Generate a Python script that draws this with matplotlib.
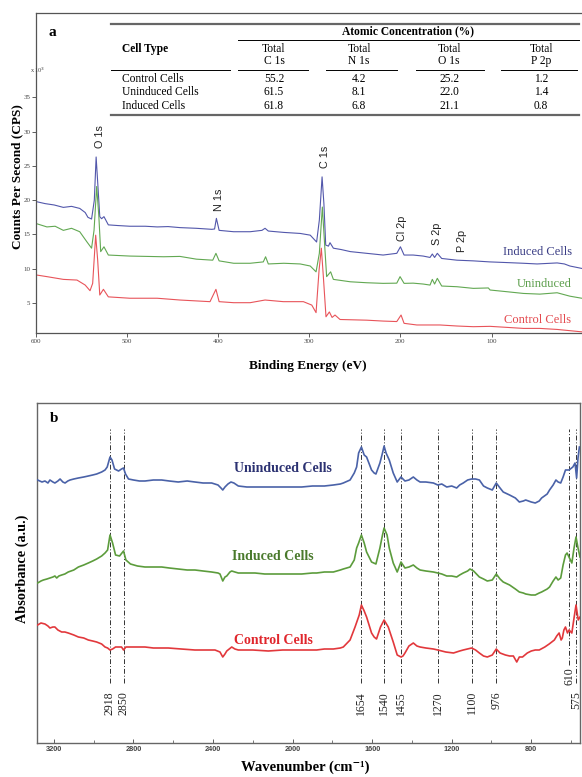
import matplotlib.pyplot as plt
from matplotlib.lines import Line2D

W, H = 582, 777

# ---- XPS survey spectra: binding energy (eV) vs counts per second (x10^3)
be_induced = [600, 590, 580, 570, 561, 552, 546, 543, 539, 536, 534, 532, 530, 528, 525.4,
              520.6, 510, 497, 480, 467, 455, 442, 424, 407, 404, 402, 399, 383, 365, 352,
              348.6, 345, 328, 310, 299, 292, 289, 286, 284, 282, 279, 277.3, 273.6, 265, 255,
              237, 219, 204, 200, 196, 186, 175, 167.5, 165, 162.5, 159.5, 154.7, 138, 120,
              102, 83, 65, 50, 28, 20, 14, 1]
cps_induced = [19.8, 19.5, 19.3, 18.95, 19.1, 18.8, 18.2, 17.5, 17.25, 20.0, 26.3, 22.0, 17.6,
               17.3, 17.6, 16.4, 16.3, 16.2, 16.2, 16.1, 16.15, 16.0, 15.9, 15.75, 15.8, 17.35,
               15.6, 15.4, 15.4, 15.6, 15.9, 15.5, 15.3, 15.15, 14.9, 13.9, 17.1, 23.4, 19.5,
               13.45, 13.3, 13.8, 13.0, 12.8, 12.5, 12.25, 12.0, 12.25, 13.2, 12.0, 12.0, 11.85,
               11.65, 12.15, 11.65, 12.25, 11.5, 11.25, 11.15, 11.0, 10.9, 10.8, 10.7, 10.85,
               10.7, 10.4, 10.05]

be_uninduced = [600, 588, 579, 570, 561, 552, 544, 539, 536.3, 533.4, 531, 529, 525.4, 520.6,
                497, 460, 442, 424, 406, 402.5, 399, 383, 365, 350.5, 348, 345, 328, 310, 299,
                292.6, 289, 285.7, 283.5, 281, 276.6, 273.6, 255, 237, 219, 204, 200.4, 196,
                186, 175, 167.5, 165, 162.5, 159.5, 154.7, 138, 120, 103.5, 101.6, 83, 65, 47,
                28, 14, 1]
cps_uninduced = [16.6, 16.1, 16.2, 15.6, 15.9, 15.4, 13.9, 13.0, 15.6, 22.0, 17.6, 12.5, 13.2,
                 12.0, 11.85, 11.75, 11.8, 11.4, 11.25, 12.25, 11.15, 10.8, 10.8, 11.0, 11.75,
                 10.7, 10.8, 10.7, 10.4, 9.55, 12.25, 19.0, 14.2, 8.85, 9.55, 8.45, 8.1, 7.96,
                 7.87, 7.9, 8.85, 7.87, 7.9, 7.77, 7.62, 8.45, 7.77, 8.6, 7.48, 7.38, 7.14, 7.2,
                 6.9, 6.65, 6.4, 6.3, 6.5, 6.0, 5.7]

be_control = [600, 588, 570, 555, 546, 540.7, 537.8, 534.5, 532.3, 530, 526, 520.6, 497, 467,
              442, 409, 402.5, 399, 383, 365, 348.6, 328.5, 306.5, 297.3, 292.6, 289.3, 286.8,
              284.6, 281.7, 278, 275, 271.8, 266.3, 237, 219, 204, 199.3, 196, 182, 156.5, 138,
              120, 101.6, 83, 65, 47, 28, 1]
cps_control = [9.1, 8.85, 8.45, 8.35, 7.62, 6.8, 7.87, 14.9, 11.25, 6.17, 7.0, 5.9, 5.7, 5.7,
               5.44, 5.2, 7.0, 5.2, 5.05, 5.05, 5.44, 5.2, 5.2, 4.7, 3.6, 9.8, 13.0, 8.85, 3.0,
               3.7, 2.9, 3.25, 2.6, 2.5, 2.37, 2.3, 3.25, 2.04, 1.8, 1.8, 1.65, 1.55, 1.6, 1.45,
               1.3, 1.3, 1.15, 0.8]

peak_names = ['O 1s', 'N 1s', 'C 1s', 'Cl 2p', 'S 2p', 'P 2p']
peak_be = [530, 399, 283, 198, 160, 132.5]
peak_y = [29.3, 20.0, 26.3, 15.9, 15.1, 14.0]

# ---- atomic concentration table
cell_types = ['Control Cells', 'Uninduced Cells', 'Induced Cells']
elements = ['C 1s', 'N 1s', 'O 1s', 'P 2p']
conc_c = ['55.2', '61.5', '61.8']
conc_n = ['4.2', '8.1', '6.8']
conc_o = ['25.2', '22.0', '21.1']
conc_p = ['1.2', '1.4', '0.8']

# ---- FTIR spectra: wavenumber (cm-1) vs absorbance (a.u.)
wn_uninduced = [3282, 3260, 3245, 3230, 3220, 3205, 3195, 3180, 3169, 3155, 3144, 3130, 3119,
                3100, 3077, 3050, 3027, 3005, 2985, 2960, 2943, 2932, 2918, 2908, 2895, 2875,
                2860, 2850, 2840, 2825, 2800, 2770, 2742, 2700, 2658, 2620, 2575, 2530, 2491,
                2450, 2407, 2375, 2360, 2351, 2340, 2325, 2310, 2295, 2273, 2230, 2189, 2140,
                2088, 2020, 1954, 1900, 1879, 1840, 1795, 1760, 1745, 1711, 1690, 1678, 1668,
                1654, 1640, 1628, 1603, 1590, 1581, 1561, 1548, 1540, 1530, 1514, 1494, 1474,
                1455, 1435, 1415, 1393, 1375, 1359, 1330, 1292, 1270, 1250, 1225, 1200, 1175,
                1160, 1142, 1120, 1100, 1080, 1061, 1040, 1021, 996, 976, 957, 941, 909, 880,
                860, 840, 828, 800, 780, 760, 748, 720, 708, 690, 676, 665, 652, 640, 628, 610,
                591, 580, 572, 565, 558]
ab_uninduced = [2.63, 2.61, 2.62, 2.60, 2.63, 2.61, 2.60, 2.62, 2.64, 2.61, 2.60, 2.62, 2.63,
                2.64, 2.65, 2.66, 2.67, 2.68, 2.69, 2.71, 2.73, 2.76, 2.86, 2.83, 2.74, 2.72,
                2.74, 2.75, 2.69, 2.64, 2.63, 2.62, 2.62, 2.63, 2.63, 2.62, 2.61, 2.62, 2.61,
                2.60, 2.60, 2.58, 2.55, 2.53, 2.56, 2.59, 2.61, 2.60, 2.57, 2.56, 2.56, 2.56,
                2.56, 2.56, 2.56, 2.57, 2.57, 2.57, 2.58, 2.59, 2.60, 2.63, 2.70, 2.76, 2.90,
                2.96, 2.88, 2.86, 2.73, 2.70, 2.69, 2.80, 2.90, 2.97, 2.90, 2.83, 2.70, 2.61,
                2.66, 2.62, 2.63, 2.66, 2.63, 2.61, 2.61, 2.60, 2.58, 2.59, 2.56, 2.57, 2.55,
                2.58, 2.60, 2.63, 2.64, 2.64, 2.63, 2.57, 2.55, 2.53, 2.60, 2.55, 2.51, 2.48,
                2.45, 2.41, 2.42, 2.43, 2.41, 2.40, 2.42, 2.45, 2.49, 2.53, 2.58, 2.63, 2.61,
                2.60, 2.66, 2.73, 2.73, 2.76, 2.80, 2.65, 2.85, 2.96]

wn_induced = [3282, 3265, 3253, 3235, 3220, 3205, 3195, 3186, 3175, 3161, 3145, 3128, 3100,
              3077, 3050, 3027, 3005, 2985, 2960, 2943, 2930, 2918, 2905, 2890, 2870, 2850,
              2838, 2815, 2780, 2742, 2700, 2658, 2620, 2575, 2530, 2491, 2450, 2407, 2375,
              2365, 2351, 2340, 2331, 2315, 2306, 2290, 2273, 2230, 2189, 2140, 2088, 2020,
              1954, 1900, 1879, 1840, 1795, 1760, 1745, 1711, 1690, 1678, 1668, 1654, 1640,
              1628, 1603, 1581, 1561, 1548, 1540, 1525, 1514, 1494, 1474, 1455, 1435, 1415,
              1393, 1375, 1359, 1330, 1292, 1270, 1250, 1225, 1200, 1175, 1160, 1142, 1120,
              1108, 1090, 1061, 1040, 1021, 996, 976, 957, 941, 909, 880, 860, 840, 828, 800,
              780, 760, 748, 720, 708, 690, 676, 665, 652, 640, 628, 620, 608, 596, 585, 575,
              565, 555]
ab_induced = [1.60, 1.62, 1.63, 1.64, 1.65, 1.66, 1.67, 1.65, 1.67, 1.68, 1.69, 1.71, 1.73,
              1.76, 1.78, 1.80, 1.82, 1.84, 1.87, 1.90, 1.93, 2.08, 2.00, 1.88, 1.87, 1.92,
              1.83, 1.79, 1.77, 1.76, 1.76, 1.76, 1.75, 1.74, 1.73, 1.73, 1.72, 1.71, 1.70,
              1.69, 1.62, 1.66, 1.67, 1.71, 1.72, 1.71, 1.70, 1.70, 1.70, 1.69, 1.69, 1.69,
              1.69, 1.70, 1.70, 1.71, 1.71, 1.73, 1.74, 1.76, 1.83, 1.95, 2.00, 2.08, 2.00,
              1.91, 1.81, 1.79, 1.95, 2.08, 2.15, 2.08, 1.95, 1.80, 1.71, 1.81, 1.75, 1.76,
              1.78, 1.75, 1.73, 1.72, 1.71, 1.70, 1.69, 1.67, 1.67, 1.66, 1.68, 1.70, 1.72,
              1.74, 1.72, 1.66, 1.64, 1.62, 1.63, 1.69, 1.64, 1.61, 1.58, 1.54, 1.51, 1.50,
              1.49, 1.48, 1.48, 1.50, 1.51, 1.54, 1.56, 1.62, 1.66, 1.63, 1.65, 1.78, 1.88,
              1.90, 1.85, 1.80, 1.95, 2.06, 1.95, 1.86]

wn_control = [3282, 3265, 3245, 3230, 3220, 3205, 3195, 3180, 3161, 3145, 3128, 3100, 3077,
              3050, 3027, 3005, 2985, 2960, 2943, 2930, 2918, 2905, 2890, 2870, 2860, 2850,
              2838, 2800, 2742, 2700, 2625, 2560, 2491, 2440, 2390, 2365, 2351, 2340, 2331,
              2306, 2290, 2273, 2200, 2122, 2050, 1954, 1900, 1879, 1840, 1795, 1760, 1745,
              1711, 1686, 1665, 1654, 1640, 1628, 1603, 1590, 1578, 1558, 1540, 1528, 1519,
              1494, 1474, 1455, 1445, 1435, 1415, 1393, 1375, 1359, 1330, 1292, 1270, 1230,
              1191, 1160, 1142, 1100, 1080, 1061, 1040, 1021, 996, 976, 957, 930, 909, 890,
              873, 860, 844, 820, 800, 780, 760, 732, 710, 684, 672, 660, 650, 644, 636, 628,
              618, 610, 596, 585, 575, 564, 555]
ab_control = [1.18, 1.20, 1.19, 1.17, 1.15, 1.16, 1.16, 1.13, 1.11, 1.11, 1.10, 1.08, 1.06,
              1.05, 1.03, 1.02, 1.01, 0.99, 0.96, 0.95, 0.93, 0.94, 0.96, 0.96, 0.96, 0.93,
              0.96, 0.96, 0.96, 0.95, 0.95, 0.94, 0.93, 0.93, 0.93, 0.91, 0.86, 0.89, 0.92,
              0.96, 0.94, 0.93, 0.93, 0.92, 0.93, 0.93, 0.93, 0.93, 0.94, 0.94, 0.95, 0.96,
              1.03, 1.16, 1.28, 1.38, 1.32, 1.26, 1.10, 1.06, 1.04, 1.16, 1.23, 1.19, 1.16,
              1.01, 0.88, 0.86, 0.87, 0.90, 0.97, 1.00, 0.97, 0.96, 0.95, 0.94, 0.93, 0.91,
              0.90, 0.92, 0.93, 0.95, 0.93, 0.90, 0.87, 0.86, 0.88, 0.94, 0.90, 0.88, 0.87,
              0.87, 0.81, 0.86, 0.86, 0.90, 0.92, 0.93, 0.93, 0.96, 0.99, 1.03, 1.07, 1.10,
              1.03, 1.05, 1.13, 1.16, 1.10, 1.13, 1.10, 1.25, 1.38, 1.23, 1.26]

bands = [2918, 2850, 1654, 1540, 1455, 1270, 1100, 976, 610, 575]

plt.rcParams['font.family'] = ['Liberation Serif', 'DejaVu Serif']
fig = plt.figure(figsize=(W / 100, H / 100), dpi=100)


def px(x, y):
    # pixel position (from top-left) -> figure fraction
    return x / W, 1 - y / H


def hline(x0, x1, y, lw, color='black'):
    (a, b), (c, _) = px(x0, y), px(x1, y)
    fig.add_artist(Line2D([a, c], [b, b], transform=fig.transFigure, lw=lw, color=color))


# ================= panel a : XPS =================
l, b = px(36, 333)
r, t = px(582, 13)
ax1 = fig.add_axes([l, b, r - l, t - b])
ax1.plot(be_induced, cps_induced, color='#5257ab', lw=0.8)
ax1.plot(be_uninduced, cps_uninduced, color='#62a852', lw=0.8)
ax1.plot(be_control, cps_control, color='#e8545a', lw=0.8)
ax1.set_xlim(600, 0.7)
ax1.set_ylim(0.63, 47.3)
ax1.set_xticks([600, 500, 400, 300, 200, 100])
ax1.set_yticks([5, 10, 15, 20, 25, 30, 35])
ax1.tick_params(axis='both', labelsize=5, length=3, width=0.6, pad=1, colors='#444444')
ax1.spines['right'].set_visible(False)
for s in ['left', 'bottom', 'top']:
    ax1.spines[s].set_color('#555555')
    ax1.spines[s].set_linewidth(0.9)

for name, e, y in zip(peak_names, peak_be, peak_y):
    ax1.text(e, y, name, rotation=90, ha='center', va='center', fontsize=7.8,
             family='Liberation Sans', color='#222222')

ax1.text(49.7, 12.5, 'Induced Cells', ha='center', va='center', fontsize=9, color='#3a3d85')
ax1.text(42, 7.77, 'Uninduced', ha='center', va='center', fontsize=9, color='#5c9e4c')
ax1.text(49, 2.5, 'Control Cells', ha='center', va='center', fontsize=9, color='#e44a4f')

fig.text(*px(17, 177), 'Counts Per Second (CPS)', rotation=90, ha='center', va='center',
         fontsize=9.5, fontweight='bold')
fig.text(*px(308, 366), 'Binding Energy (eV)', ha='center', va='center',
         fontsize=9.5, fontweight='bold')
fig.text(*px(30, 70), r'x 10$^3$', ha='left', va='center', fontsize=4.5, color='#444444')
fig.text(*px(52, 33), 'a', ha='center', va='center', fontsize=11, fontweight='bold')

# atomic concentration table
col_x = [274, 359, 449, 541]
col_span = [(238, 308), (326, 397), (416, 484), (501, 577)]
fs = 8.3
hline(111, 579, 24, 1.6, '#666666')
fig.text(*px(408, 31), 'Atomic Concentration (%)', ha='center', va='center',
         fontsize=fs, fontweight='bold')
hline(238, 579, 40, 0.7)
fig.text(*px(122, 49), 'Cell Type', ha='left', va='center', fontsize=fs, fontweight='bold')
for cx, el, (x0, x1) in zip(col_x, elements, col_span):
    fig.text(*px(cx, 49), 'Total', ha='center', va='center', fontsize=fs)
    fig.text(*px(cx, 61), el, ha='center', va='center', fontsize=fs)
    hline(x0, x1, 70, 0.7)
hline(111, 230, 70, 0.7)
for row, y in enumerate([79, 92, 106]):
    fig.text(*px(122, y), cell_types[row], ha='left', va='center', fontsize=fs)
    for cx, col in zip(col_x, [conc_c, conc_n, conc_o, conc_p]):
        fig.text(*px(cx, y), col[row], ha='center', va='center', fontsize=fs)
hline(111, 579, 115, 1.6, '#666666')

# ================= panel b : FTIR =================
l, b = px(37, 743)
r, t = px(580, 403)
ax2 = fig.add_axes([l, b, r - l, t - b])
for wn in bands:
    low = 0.78 if wn == 610 else 0.60
    ax2.plot([wn, wn], [low, 3.14], color='#333333', lw=0.7,
             linestyle=(0, (5, 2, 1, 2)), zorder=1)
    ax2.text(wn, 0.76 if wn == 610 else 0.52, str(wn), rotation=90, ha='center', va='top',
             fontsize=8.5, color='#222222')
ax2.plot(wn_uninduced, ab_uninduced, color='#4a62a8', lw=1.2, zorder=3)
ax2.plot(wn_induced, ab_induced, color='#5c9c3c', lw=1.2, zorder=3)
ax2.plot(wn_control, ab_control, color='#e2383c', lw=1.2, zorder=3)
ax2.set_xlim(3285, 555)
ax2.set_ylim(0, 3.4)
ax2.set_yticks([])
ax2.set_xticks([3200, 2800, 2400, 2000, 1600, 1200, 800])
ax2.set_xticks([3000, 2600, 2200, 1800, 1400, 1000, 600], minor=True)
ax2.tick_params(axis='x', which='major', direction='in', length=3, width=0.6, pad=2,
                labelsize=5.3, colors='#444444')
ax2.tick_params(axis='x', which='minor', direction='in', length=2, width=0.5, colors='#444444')
for lab in ax2.get_xticklabels():
    lab.set_family('Liberation Sans')
    lab.set_fontweight('bold')
for s in ax2.spines.values():
    s.set_color('#666666')
    s.set_linewidth(1.0)

ax2.text(2048, 2.74, 'Uninduced Cells', ha='center', va='center', fontsize=10,
         fontweight='bold', color='#2c3272')
ax2.text(2098, 1.86, 'Induced Cells', ha='center', va='center', fontsize=10,
         fontweight='bold', color='#4a7a2c')
ax2.text(2098, 1.03, 'Control Cells', ha='center', va='center', fontsize=10,
         fontweight='bold', color='#e0262c')

fig.text(*px(54, 419), 'b', ha='center', va='center', fontsize=11, fontweight='bold')
fig.text(*px(22, 569), 'Absorbance (a.u.)', rotation=90, ha='center', va='center',
         fontsize=10.3, fontweight='bold')
fig.text(*px(305, 767), 'Wavenumber (cm\u207b\u00b9)', ha='center', va='center',
         fontsize=10.5, fontweight='bold')

fig.savefig('out.png', dpi=100)
